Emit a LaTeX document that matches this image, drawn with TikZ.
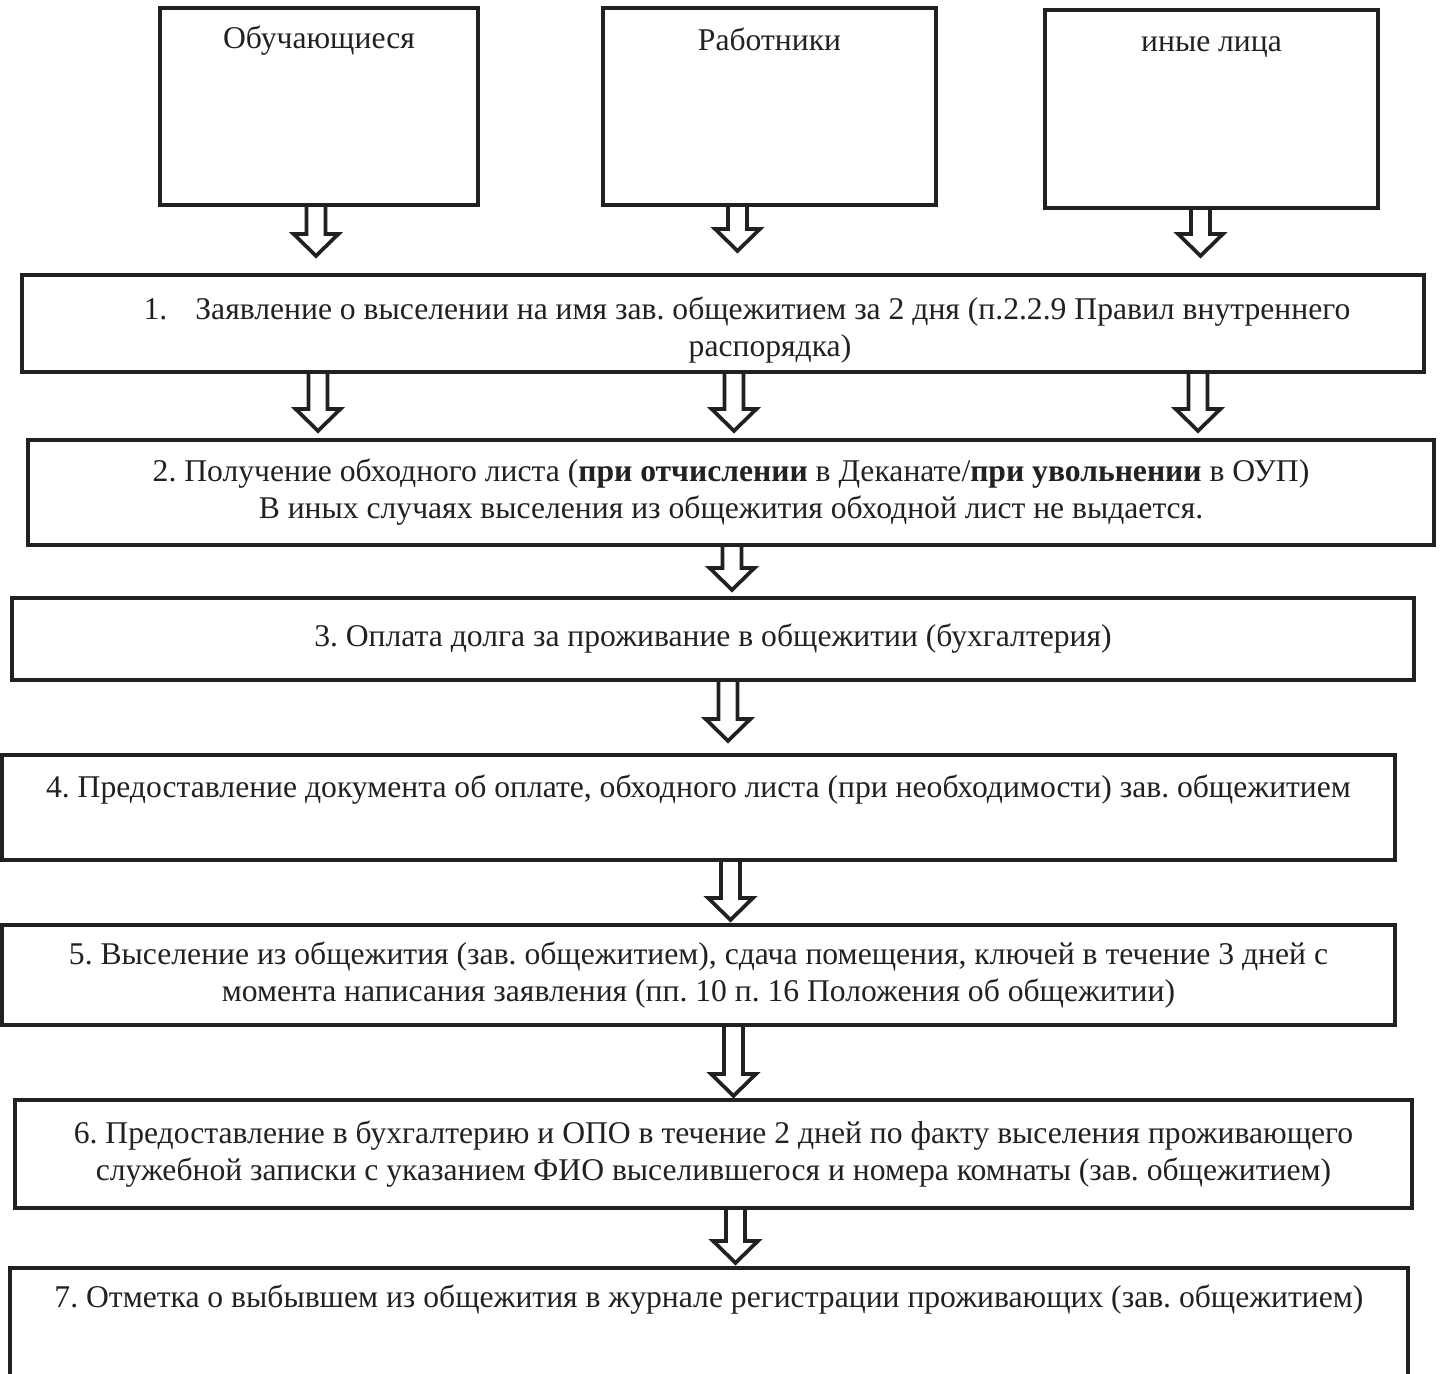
\documentclass[tikz,border=0pt]{standalone}
\usepackage{fontspec}
\setmainfont{Liberation Serif}
\usetikzlibrary{calc}
\frenchspacing

\definecolor{ink}{RGB}{35,32,35}

\tikzset{
  box/.style={draw=ink, line width=0.042cm, inner sep=0pt, align=center, text=ink},
  lbl/.style={anchor=base, inner sep=0pt, text=ink},
  hollow/.style={draw=ink, line width=0.037cm, to path={
    let \p1=(\tikztostart), \p2=(\tikztotarget) in
    (\x1-0.095cm,\y1) -- (\x1-0.095cm,\y2+0.22cm) -- (\x1-0.225cm,\y2+0.22cm) -- (\x1,\y2)
    -- (\x1+0.225cm,\y2+0.22cm) -- (\x1+0.095cm,\y2+0.22cm) -- (\x1+0.095cm,\y1)}}
}

\begin{document}
\begin{tikzpicture}[font=\fontsize{9}{10.5}\selectfont]
    \useasboundingbox (0,0) rectangle (14.41,-13.73);

    % who moves out
    \node[box, minimum width=3.18cm, minimum height=1.97cm, label={[lbl, yshift=-0.43cm]north:Обучающиеся}] (o1) at (3.19,-1.065) {};
    \node[box, minimum width=3.33cm, minimum height=1.97cm, label={[lbl, yshift=-0.45cm]north:Работники}] (o2) at (7.695,-1.065) {};
    \node[box, minimum width=3.33cm, minimum height=1.98cm, label={[lbl, yshift=-0.44cm]north:иные лица}] (o3) at (12.115,-1.09) {};

    % steps
    \node[box, minimum width=14.02cm, minimum height=0.97cm] (s1) at (7.23,-3.235)
        {\rule{0pt}{1.1em}\hspace*{0.48cm}1.\hspace{0.28cm}Заявление о выселении на имя зав. общежитием за 2 дня (п.2.2.9 Правил внутреннего\\\hspace*{0.94cm}распорядка)};
    \node[box, minimum width=14.06cm, minimum height=1.05cm] (s2) at (7.31,-4.925)
        {2. Получение обходного листа (\textbf{при отчислении} в Деканате/\textbf{при увольнении} в ОУП)\\В иных случаях выселения из общежития обходной лист не выдается.};
    \node[box, minimum width=14.02cm, minimum height=0.82cm] (s3) at (7.13,-6.39)
        {3. Оплата долга за проживание в общежитии (бухгалтерия)};
    \node[box, minimum width=13.93cm, minimum height=1.05cm, label={[lbl, yshift=-0.45cm]north:4. Предоставление документа об оплате, обходного листа (при необходимости) зав. общежитием}] (s4) at (6.985,-8.075) {};
    \node[box, minimum width=13.93cm, minimum height=1.0cm] (s5) at (6.985,-9.75)
        {5. Выселение из общежития (зав. общежитием), сдача помещения, ключей в течение 3 дней с\\момента написания заявления (пп. 10 п. 16 Положения об общежитии)};
    \node[box, minimum width=13.97cm, minimum height=1.08cm] (s6) at (7.135,-11.54)
        {6. Предоставление в бухгалтерию и ОПО в течение 2 дней по факту выселения проживающего\\служебной записки с указанием ФИО выселившегося и номера комнаты (зав. общежитием)};
    \node[box, minimum width=13.98cm, minimum height=1.32cm, label={[lbl, yshift=-0.42cm]north:7. Отметка о выбывшем из общежития в журнале регистрации проживающих (зав. общежитием)}] (s7) at (7.09,-13.34) {};

    % arrows
    \foreach \n/\dx/\g in {o1/-0.03/0.17, o2/-0.32/0.22, o3/-0.11/0.17}
        \draw[hollow] ([xshift=\dx cm]\n.south) to ([yshift=\g cm]s1.north);
    \foreach \dx in {-4.05, 0.11, 4.75}
        \draw[hollow] ([xshift=\dx cm]s1.south) to ([yshift=0.07cm]s2.north);
    \foreach \a/\b/\dx/\g in {s2/s3/0.01/0.06, s3/s4/0.15/0.12, s4/s5/0.32/0.03, s5/s6/0.35/0.02, s6/s7/0.22/0.03}
        \draw[hollow] ([xshift=\dx cm]\a.south) to ([yshift=\g cm]\b.north);
\end{tikzpicture}
\end{document}
